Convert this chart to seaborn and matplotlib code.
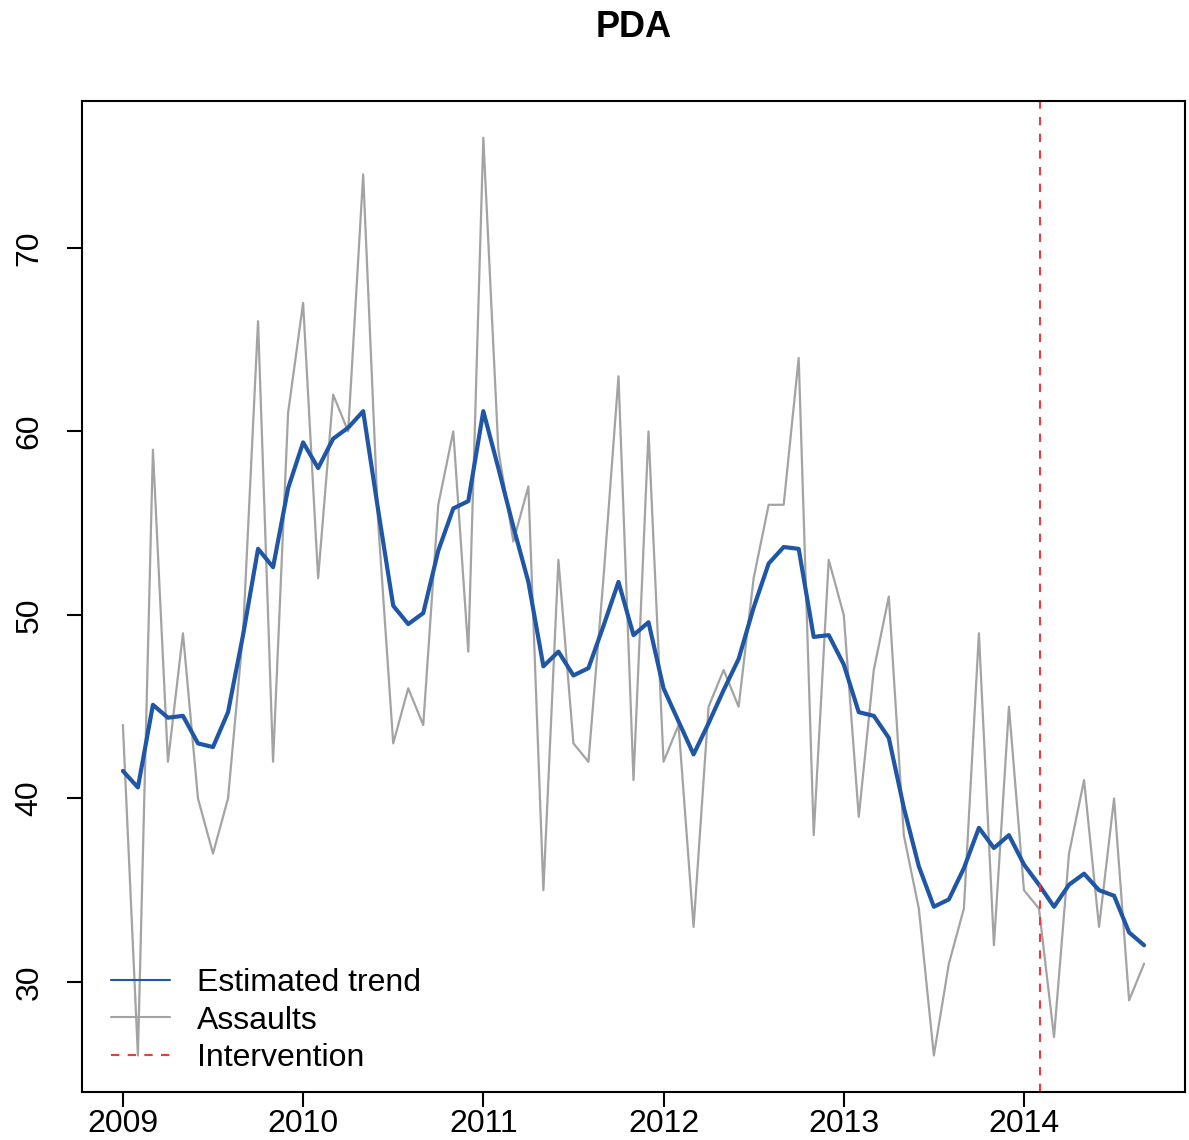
import numpy as np
import pandas as pd
import matplotlib.pyplot as plt
import seaborn as sns
from matplotlib.lines import Line2D

# monthly series, Jan 2009 - Sep 2014
start_year = 2009
assaults = [44, 26, 59, 42, 49, 40, 37, 40, 49, 66, 42, 61,
            67, 52, 62, 60, 74, 55, 43, 46, 44, 56, 60, 48,
            76, 59, 54, 57, 35, 53, 43, 42, 52, 63, 41, 60,
            42, 44, 33, 45, 47, 45, 52, 56, 56, 64, 38, 53,
            50, 39, 47, 51, 38, 34, 26, 31, 34, 49, 32, 45,
            35, 34, 27, 37, 41, 33, 40, 29, 31]
trend = [41.5, 40.6, 45.1, 44.4, 44.5, 43.0, 42.8, 44.7, 48.9, 53.6, 52.6, 56.9,
         59.4, 58.0, 59.6, 60.2, 61.1, 55.7, 50.5, 49.5, 50.1, 53.5, 55.8, 56.2,
         61.1, 58.0, 54.8, 51.8, 47.2, 48.0, 46.7, 47.1, 49.4, 51.8, 48.9, 49.6,
         46.0, 44.2, 42.4, 44.1, 45.9, 47.6, 50.4, 52.8, 53.7, 53.6, 48.8, 48.9,
         47.3, 44.7, 44.5, 43.3, 39.5, 36.3, 34.1, 34.5, 36.2, 38.4, 37.3, 38.0,
         36.4, 35.3, 34.1, 35.3, 35.9, 35.0, 34.7, 32.7, 32.0]
intervention = 2014.09
year_ticks = [2009, 2010, 2011, 2012, 2013, 2014]
y_ticks = [30, 40, 50, 60, 70]
legend_labels = ["Estimated trend", "Assaults", "Intervention"]

blue = "#1f56a5"
grey = "#a3a3a3"
red = "#f03a3a"

df = pd.DataFrame({"time": start_year + np.arange(len(assaults)) / 12,
                   "assaults": assaults, "trend": trend})

sns.set_theme(style="ticks")
plt.rcParams['font.family'] = ['Liberation Sans', 'DejaVu Sans']
plt.rcParams['text.color'] = 'black'

fig = plt.figure(figsize=(11.89, 11.40), dpi=100)
ax = fig.add_axes([0.069, 0.042, 0.9276, 0.8694])

sns.lineplot(data=df, x="time", y="assaults", color=grey, lw=1.6, ax=ax)
sns.lineplot(data=df, x="time", y="trend", color=blue, lw=3, ax=ax)
ax.axvline(intervention, color=red, lw=1.5, ls=(0, (4, 4)))

# R style 4% padding
x0, x1 = df.time.min(), df.time.max()
ax.set_xlim(x0 - 0.04 * (x1 - x0), x1 + 0.04 * (x1 - x0))
y0, y1 = min(assaults), max(assaults)
ax.set_ylim(y0 - 0.04 * (y1 - y0), y1 + 0.04 * (y1 - y0))

ax.set_xticks(year_ticks)
ax.set_yticks(y_ticks)
ax.set_xlabel("")
ax.set_ylabel("")
for s in ax.spines.values():
    s.set_linewidth(1.5)
    s.set_color("black")
ax.tick_params(axis="both", length=11, width=1.5, labelsize=23, colors="black")
ax.tick_params(axis="x", pad=1)
ax.tick_params(axis="y", labelrotation=90, pad=16)
for lab in ax.get_yticklabels():
    lab.set_va("center")

ax.set_title("PDA", fontsize=26, fontweight="bold", pad=46, color="black")

handles = [Line2D([], [], color=blue, lw=1.5),
           Line2D([], [], color=grey, lw=1.5),
           Line2D([], [], color=red, lw=1.5, ls=(0, (4, 4)))]
leg = ax.legend(handles, legend_labels, loc="lower left", bbox_to_anchor=(0.026, 0.019),
                frameon=False, fontsize=23, handlelength=1.85, handletextpad=0.85,
                labelspacing=0.24, borderpad=0, borderaxespad=0)
for t in leg.get_texts():
    t.set_color("black")

fig.savefig("out.png", dpi=100)
